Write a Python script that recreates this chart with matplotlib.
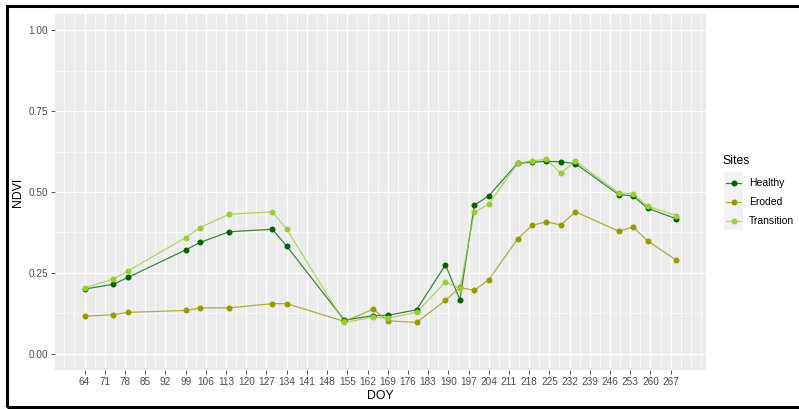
import numpy as np
import matplotlib
matplotlib.use("Agg")
import matplotlib.pyplot as plt
from matplotlib.lines import Line2D
from matplotlib.patches import Rectangle

plt.rcParams['font.family'] = ['Liberation Sans', 'DejaVu Sans']

# NDVI per site by day of year
doy = [64, 74, 79, 99, 104, 114, 129, 134, 154, 164, 169, 179, 189,
       194, 199, 204, 214, 219, 224, 229, 234, 249, 254, 259, 269]
healthy = [0.200, 0.215, 0.236, 0.321, 0.344, 0.377, 0.385, 0.333, 0.104,
           0.118, 0.119, 0.136, 0.275, 0.167, 0.459, 0.488, 0.589, 0.592,
           0.595, 0.593, 0.588, 0.492, 0.488, 0.450, 0.417]
eroded = [0.116, 0.121, 0.128, 0.134, 0.142, 0.142, 0.155, 0.155, 0.100,
          0.138, 0.102, 0.097, 0.165, 0.205, 0.196, 0.229, 0.355, 0.397,
          0.408, 0.398, 0.439, 0.379, 0.392, 0.349, 0.289]
transition = [0.204, 0.231, 0.256, 0.359, 0.390, 0.431, 0.439, 0.385, 0.097,
              0.113, 0.110, 0.128, 0.222, 0.202, 0.438, 0.462, 0.589, 0.596,
              0.601, 0.558, 0.596, 0.497, 0.495, 0.456, 0.427]

sites = ["Healthy", "Eroded", "Transition"]
colors = ["#006400", "#999900", "#9ACD32"]
series = [healthy, eroded, transition]

x_breaks = list(range(64, 268, 7))
y_breaks = [0.0, 0.25, 0.5, 0.75, 1.0]

W, H = 799, 409
fig = plt.figure(figsize=(W / 100, H / 100), dpi=100)
ax = fig.add_axes([55 / W, 1 - 370 / H, (706 - 55) / W, (370 - 14) / H])
ax.set_facecolor("#EBEBEB")

# ggplot-like grid
ax.set_xticks(x_breaks)
ax.set_xticks(np.arange(57, 280, 3.5), minor=True)
ax.set_yticks(y_breaks)
ax.set_yticks([0.125, 0.375, 0.625, 0.875], minor=True)
ax.grid(which="major", color="white", lw=1.0)
ax.grid(which="minor", color="white", lw=0.5)
ax.set_axisbelow(True)
for s in ax.spines.values():
    s.set_visible(False)

for vals, c in zip(series, colors):
    ax.plot(doy, vals, color=c, lw=0.9, alpha=0.75, zorder=2)
for vals, c in zip(series, colors):
    ax.plot(doy, vals, "o", color=c, ms=4.3, mew=0, zorder=3)

span = doy[-1] - doy[0]
ax.set_xlim(doy[0] - 0.05 * span, doy[-1] + 0.05 * span)
ax.set_ylim(-0.05, 1.05)
ax.set_yticklabels(["0.00", "0.25", "0.50", "0.75", "1.00"])

ax.tick_params(which="major", length=3, width=0.6, color="#333333",
               labelcolor="#4D4D4D", labelsize=7.2, pad=2)
ax.tick_params(which="minor", length=0)
ax.set_xlabel("DOY", fontsize=8.8, labelpad=2)
ax.set_ylabel("NDVI", fontsize=8.8, labelpad=3)

# legend
def fx(px):
    return px / W

def fy(py):
    return 1 - py / H

fig.text(fx(722), fy(161), "Sites", fontsize=8.8, va="center", ha="left")
fig.add_artist(Rectangle((fx(724), fy(230)), fx(743) - fx(724),
                         fy(172) - fy(230), transform=fig.transFigure,
                         facecolor="#F2F2F2", edgecolor="none"))
for i, (name, c) in enumerate(zip(sites, colors)):
    yy = fy(183 + i * 19)
    fig.add_artist(Line2D([fx(726), fx(741)], [yy, yy], color=c, lw=0.9,
                          alpha=0.75, transform=fig.transFigure))
    fig.add_artist(Line2D([fx(733.5)], [yy], marker="o", ms=4.3, mew=0,
                          color=c, transform=fig.transFigure))
    fig.text(fx(749), yy, name, fontsize=7.5, va="center", ha="left")

# outer frame
fig.add_artist(Rectangle((fx(7), fy(407)), 1.05 - fx(7), fy(6) - fy(407),
                         transform=fig.transFigure, fill=False,
                         edgecolor="black", lw=2.2))

fig.savefig("out.png", dpi=100)
